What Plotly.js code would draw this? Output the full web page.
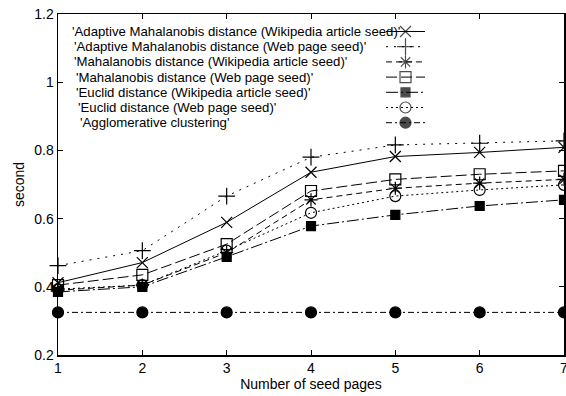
<!DOCTYPE html>
<html><head><meta charset="utf-8">
<script src="https://cdn.plot.ly/plotly-3.0.1.min.js"></script>
<style>html,body{margin:0;padding:0;background:#fff}</style>
</head><body><div id="chart" style="width:566px;height:396px"></div>
<script>
const seedPages = [1, 2, 3, 4, 5, 6, 7];
const seriesNames = [
  "'Adaptive Mahalanobis distance (Wikipedia article seed)'",
  "'Adaptive Mahalanobis distance (Web page seed)'",
  "'Mahalanobis distance (Wikipedia article seed)'",
  "'Mahalanobis distance (Web page seed)'",
  "'Euclid distance (Wikipedia article seed)'",
  "'Euclid distance (Web page seed)'",
  "'Agglomerative clustering'"
];
const adaptiveMahaWiki = [0.412, 0.471, 0.589, 0.736, 0.782, 0.794, 0.809];
const adaptiveMahaWeb  = [0.462, 0.506, 0.666, 0.780, 0.816, 0.821, 0.828];
const mahaWiki         = [0.390, 0.405, 0.500, 0.655, 0.689, 0.704, 0.715];
const mahaWeb          = [0.405, 0.435, 0.525, 0.681, 0.715, 0.730, 0.740];
const euclidWiki       = [0.385, 0.400, 0.488, 0.578, 0.611, 0.637, 0.655];
const euclidWeb        = [0.393, 0.405, 0.506, 0.617, 0.666, 0.684, 0.699];
const agglomerative    = [0.325, 0.325, 0.325, 0.325, 0.325, 0.325, 0.325];

const seriesValues = [adaptiveMahaWiki, adaptiveMahaWeb, mahaWiki, mahaWeb, euclidWiki, euclidWeb, agglomerative];
const styles = [
  {dash: 'solid', symbol: 'x-thin-open', size: 11},
  {dash: '2px,6px', symbol: 'cross-thin-open', size: 12},
  {dash: '6px,4px', symbol: 'asterisk-open', size: 11},
  {dash: '11px,4px', symbol: 'square-open', size: 11},
  {dash: '12px,3px,2px,3px', symbol: 'square', size: 9},
  {dash: '2px,3px', symbol: 'circle-open', size: 11},
  {dash: '6px,3px,2px,3px', symbol: 'circle', size: 11}
];
const legendTextLeftPx = [70, 72, 72, 74, 74, 76, 78];

const L = 58, R = 2, T = 14, B = 41, W = 566, H = 396;
const pw = W - L - R;

const traces = [];
seriesValues.forEach((vals, i) => {
  const s = styles[i];
  traces.push({
    x: seedPages, y: vals, name: seriesNames[i], type: 'scatter', mode: 'lines+markers',
    cliponaxis: false,
    line: {color: '#000', width: 1, dash: s.dash},
    marker: {symbol: s.symbol, size: s.size, color: '#000', line: {color: '#000', width: 1.2}},
    showlegend: false
  });
});
// legend key samples (row index on an auxiliary axis)
seriesValues.forEach((vals, i) => {
  const s = styles[i];
  traces.push({
    x: [0, 1, 2], y: [i, i, i], xaxis: 'x2', yaxis: 'y2', type: 'scatter', mode: 'lines+markers',
    cliponaxis: false, hoverinfo: 'skip', showlegend: false,
    line: {color: '#000', width: 1, dash: s.dash},
    marker: {symbol: s.symbol, size: [0, s.size, 0], color: '#000', line: {color: '#000', width: [0, 1.2, 0]}}
  });
});

const annotations = seriesNames.map((n, i) => ({
  text: n, xref: 'paper', yref: 'y2', x: (legendTextLeftPx[i] - L) / pw, y: i,
  xanchor: 'left', yanchor: 'middle', showarrow: false,
  font: {family: 'Liberation Sans, Arial, sans-serif', size: 13.2, color: '#000'}
}));

const ph = H - T - B;
const keyTop = 31.5 - 7.6, keyBottom = 31.5 + 6 * 15.2 + 7.6;

const layout = {
  width: W, height: H,
  margin: {l: L, r: R, t: T, b: B, pad: 0},
  paper_bgcolor: '#fff', plot_bgcolor: '#fff',
  font: {family: 'Liberation Sans, Arial, sans-serif', size: 14, color: '#000'},
  showlegend: false,
  xaxis: {
    range: [1, 7], dtick: 1, tick0: 1, ticks: 'inside', ticklen: 5, tickwidth: 1, tickcolor: '#000',
    showline: true, linecolor: '#000', linewidth: 1.5, mirror: 'ticks', showgrid: false, zeroline: false,
    ticklabeloverflow: 'allow',
    title: {text: 'Number of seed pages', font: {size: 14}, standoff: 4},
    tickfont: {size: 14}
  },
  yaxis: {
    range: [0.2, 1.2], dtick: 0.2, tick0: 0.2, ticks: 'inside', ticklen: 5, tickwidth: 1, tickcolor: '#000',
    showline: true, linecolor: '#000', linewidth: 1.5, mirror: 'ticks', showgrid: false, zeroline: false,
    ticklabeloverflow: 'allow',
    title: {text: 'second', font: {size: 14}, standoff: 6},
    tickfont: {size: 14}
  },
  xaxis2: {domain: [(386 - L) / pw, (425 - L) / pw], range: [0, 2], visible: false, anchor: 'y2', fixedrange: true},
  yaxis2: {domain: [(H - B - keyBottom) / ph, (H - B - keyTop) / ph], range: [6.5, -0.5], visible: false, anchor: 'x2', fixedrange: true},
  annotations: annotations
};

Plotly.newPlot('chart', traces, layout, {displayModeBar: false, staticPlot: true});
</script></body></html>
